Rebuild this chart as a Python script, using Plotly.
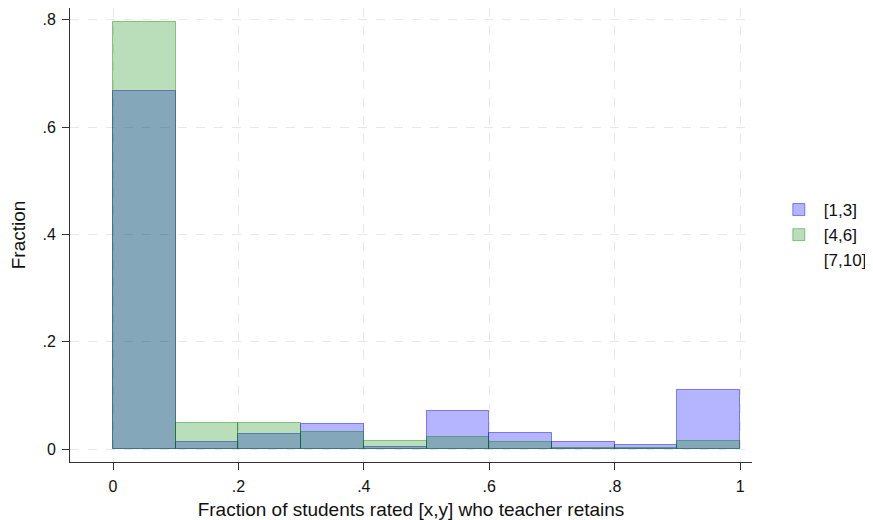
import plotly.graph_objects as go

bin_left = [0.0, 0.1, 0.2, 0.3, 0.4, 0.5, 0.6, 0.7, 0.8, 0.9]
low_13 = [0.668, 0.0125, 0.0275, 0.046, 0.0037, 0.071, 0.030, 0.0125, 0.0083, 0.111]
mid_46 = [0.796, 0.048, 0.048, 0.031, 0.0155, 0.0218, 0.0125, 0.002, 0.002, 0.0155]
high_710 = [0.0] * 10
series_names = ["[1,3]", "[4,6]", "[7,10]"]
x_ticks = [0, 0.2, 0.4, 0.6, 0.8, 1]
x_ticklabels = ["0", ".2", ".4", ".6", ".8", "1"]
y_ticks = [0, 0.2, 0.4, 0.6, 0.8]
y_ticklabels = ["0", ".2", ".4", ".6", ".8"]

fig = go.Figure()

styles = [
    dict(color="rgba(0,0,255,0.29)", line=dict(color="rgba(0,0,230,0.45)", width=1)),
    dict(color="rgba(0,128,0,0.27)", line=dict(color="rgba(0,120,0,0.4)", width=1)),
    dict(color="rgba(0,0,0,0)", line=dict(color="rgba(0,0,0,0)", width=0)),
]

for name, vals, st in zip(series_names, [low_13, mid_46, high_710], styles):
    fig.add_trace(go.Bar(
        x=bin_left,
        y=vals,
        width=0.1,
        offset=0,
        name=name,
        marker=st,
    ))

grid = dict(showgrid=True, gridcolor="#e8e8e8", griddash="dash", gridwidth=1)

# page body has an 8px margin, so the figure is sized to fit inside it
fig.update_layout(
    barmode="overlay",
    bargap=0,
    width=865,
    height=512,
    margin=dict(l=62, r=121, t=0, b=58),
    paper_bgcolor="white",
    plot_bgcolor="white",
    font=dict(family="Liberation Sans, Arial, sans-serif", size=16, color="#111"),
    xaxis=dict(
        range=[-0.0686, 1.019],
        tickvals=x_ticks, ticktext=x_ticklabels,
        ticks="outside", ticklen=7, tickcolor="#333", ticklabelstandoff=3,
        showline=True, linecolor="#333", linewidth=1,
        zeroline=False, automargin=False,
        title=dict(text="Fraction of students rated [x,y] who teacher retains", standoff=9),
        **grid,
    ),
    yaxis=dict(
        range=[-0.024, 0.822],
        tickvals=y_ticks, ticktext=y_ticklabels,
        ticks="outside", ticklen=7, tickcolor="#333", ticklabelstandoff=3,
        showline=True, linecolor="#333", linewidth=1,
        zeroline=False, automargin=False,
        title=dict(text="Fraction", standoff=12),
        **grid,
    ),
    legend=dict(
        x=1.032, y=0.5, xanchor="left", yanchor="middle",
        font=dict(size=17), itemwidth=40, tracegroupgap=0,
    ),
)

fig.write_html("out.html")
